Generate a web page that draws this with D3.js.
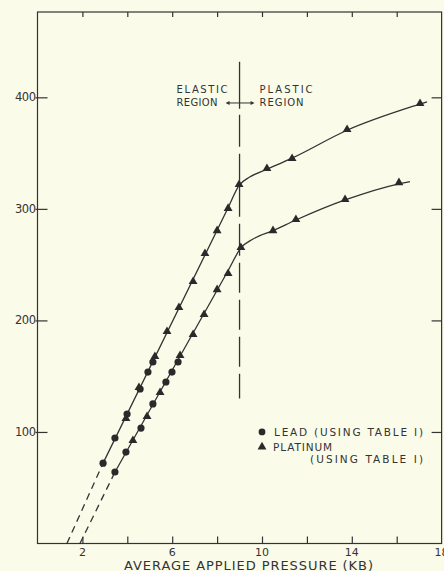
<!DOCTYPE html>
<html>
<head>
<meta charset="utf-8">
<script src="https://cdn.jsdelivr.net/npm/d3@7"></script>
<style>
  html, body { margin: 0; padding: 0; background: #fbfbea; }
  svg { display: block; }
  text { font-family: "DejaVu Sans", sans-serif; fill: #333; }
</style>
</head>
<body>
<svg id="chart" width="444" height="571"></svg>
<script>
// ---------------- data ----------------
const xTicks = [2, 4, 6, 8, 10, 12, 14, 16];
const xTickLabels = [2, 6, 10, 14, 18];
const yTicks = [100, 200, 300, 400];

// upper curve markers
const upperLead = [[2.92, 72], [3.45, 94.6], [3.99, 116], [4.57, 138.5], [4.92, 153.7], [5.14, 162.7]];
const upperPlatinum = [[3.94, 111.6], [4.52, 139.4], [5.23, 167.2], [5.77, 189.6], [6.30, 211.1], [6.93, 234.4],
  [7.46, 259.5], [8.00, 280.1], [8.49, 299.9], [8.98, 321.4], [10.22, 335.7], [11.34, 344.7], [13.79, 370.7], [17.04, 394]];
// lower curve markers
const lowerLead = [[3.45, 64.1], [3.94, 82], [4.61, 103.5], [5.14, 125.1], [5.72, 144.8], [5.99, 153.7], [6.26, 162.7]];
const lowerPlatinum = [[4.25, 91.9], [4.88, 113.4], [5.46, 134.9], [6.35, 168.1], [6.93, 186.9], [7.42, 204.8],
  [8.00, 227.2], [8.49, 241.6], [9.06, 264.9], [10.49, 280.1], [11.51, 290], [13.70, 307.9], [16.10, 323.1]];

// fitted curves
const upperCurve = [[2.92, 72], [8.49, 301], [8.98, 321], [9.45, 328.5], [10.22, 335.5], [11.34, 345.5], [13.79, 370.5], [17.04, 394], [17.35, 396]];
const lowerCurve = [[3.45, 64], [8.5, 245], [9.06, 265], [9.6, 273], [10.49, 280.5], [11.51, 290], [13.7, 308], [16.1, 322.5], [16.59, 324.5]];
// dashed extrapolations
const upperExtrap = [[1.31, 0], [2.92, 72]];
const lowerExtrap = [[1.89, 0], [3.45, 64]];

const boundaryX = 9;
const boundaryY = [130, 432];

// ---------------- layout ----------------
const W = 444, H = 571;
const m = { left: 37.5, right: 2.4, top: 12, bottom: 27.5 };
const ink = "#333";
const svg = d3.select("#chart");
svg.append("rect").attr("width", W).attr("height", H).attr("fill", "#fbfbea");

const x = d3.scaleLinear().domain([0, 18]).range([m.left, W - m.right]);
const y = d3.scaleLinear().domain([0, 476.5]).range([H - m.bottom, m.top]);

// frame
svg.append("rect")
  .attr("x", x(0)).attr("y", y(476.5))
  .attr("width", x(18) - x(0)).attr("height", y(0) - y(476.5))
  .attr("fill", "none").attr("stroke", ink).attr("stroke-width", 1.2);

// bottom axis (ticks inward)
const xAxisB = d3.axisBottom(x).tickValues(xTicks).tickSize(-7).tickFormat("");
svg.append("g").attr("transform", `translate(0,${y(0)})`).call(xAxisB)
  .call(g => g.select(".domain").remove())
  .call(g => g.selectAll("line").attr("stroke", ink).attr("stroke-width", 1.2));
// top axis ticks
const xAxisT = d3.axisTop(x).tickValues(xTicks).tickSize(-5).tickFormat("");
svg.append("g").attr("transform", `translate(0,${y(476.5)})`).call(xAxisT)
  .call(g => g.select(".domain").remove())
  .call(g => g.selectAll("line").attr("stroke", ink).attr("stroke-width", 1.2));
// x tick labels
svg.append("g").selectAll("text").data(xTickLabels).join("text")
  .attr("x", d => x(d)).attr("y", y(0) + 12.5)
  .attr("text-anchor", "middle").attr("font-size", 11).text(d => d);

// left axis
const yAxisL = d3.axisLeft(y).tickValues(yTicks).tickSize(-10).tickFormat("");
svg.append("g").attr("transform", `translate(${x(0)},0)`).call(yAxisL)
  .call(g => g.select(".domain").remove())
  .call(g => g.selectAll("line").attr("x1", -2).attr("stroke", ink).attr("stroke-width", 1.2));
svg.append("g").selectAll("text").data(yTicks).join("text")
  .attr("x", x(0) - 2).attr("y", d => y(d) + 4)
  .attr("text-anchor", "end").attr("font-size", 11.5).attr("letter-spacing", -0.5).text(d => d);
// right axis ticks
const yAxisR = d3.axisRight(y).tickValues(yTicks).tickSize(-10).tickFormat("");
svg.append("g").attr("transform", `translate(${x(18)},0)`).call(yAxisR)
  .call(g => g.select(".domain").remove())
  .call(g => g.selectAll("line").attr("stroke", ink).attr("stroke-width", 1.2));

// x axis title
svg.append("text").attr("x", 124).attr("y", H - 1.5)
  .attr("font-size", 13).attr("textLength", 249).attr("lengthAdjust", "spacing")
  .text("AVERAGE APPLIED PRESSURE (KB)");

// boundary dashed line
svg.append("line")
  .attr("x1", x(boundaryX)).attr("x2", x(boundaryX))
  .attr("y1", y(boundaryY[1])).attr("y2", y(boundaryY[0]))
  .attr("stroke", ink).attr("stroke-width", 1.3)
  .attr("stroke-dasharray", "47,6,32,7,27,6,30,7,32,7,30,7,30,7,30,7,30,7,30,7,30,7");

// region labels
const lab = svg.append("g").attr("font-size", 10).attr("lengthAdjust", "spacing");
const bx = x(boundaryX);
lab.append("text").attr("x", bx - 63).attr("y", y(404)).attr("textLength", 51).text("ELASTIC");
lab.append("text").attr("x", bx - 63).attr("y", y(392.5)).attr("textLength", 41).text("REGION");
lab.append("text").attr("x", bx + 20).attr("y", y(404)).attr("textLength", 53).text("PLASTIC");
lab.append("text").attr("x", bx + 20).attr("y", y(392.5)).attr("textLength", 44).text("REGION");
// arrow
const ay = y(403) + 9;
svg.append("line").attr("x1", bx - 12).attr("x2", bx + 13)
  .attr("y1", ay).attr("y2", ay).attr("stroke", ink).attr("stroke-width", 1);
svg.append("path").attr("d", `M${bx - 14},${ay} l4,-2 l0,4 z`).attr("fill", ink);
svg.append("path").attr("d", `M${bx + 15},${ay} l-4,-2 l0,4 z`).attr("fill", ink);

// curves
const line = d3.line().x(d => x(d[0])).y(d => y(d[1])).curve(d3.curveMonotoneX);
[upperCurve, lowerCurve].forEach(c => {
  svg.append("path").attr("d", line(c)).attr("fill", "none")
    .attr("stroke", ink).attr("stroke-width", 1.3);
});
const straight = d3.line().x(d => x(d[0])).y(d => y(d[1]));
[upperExtrap, lowerExtrap].forEach(c => {
  svg.append("path").attr("d", straight(c)).attr("fill", "none")
    .attr("stroke", ink).attr("stroke-width", 1.3).attr("stroke-dasharray", "7,5");
});

// markers
const tri = d3.symbol().type(d3.symbolTriangle).size(34);
const drawCircles = data => svg.append("g").selectAll("circle").data(data).join("circle")
  .attr("cx", d => x(d[0])).attr("cy", d => y(d[1])).attr("r", 3.6).attr("fill", "#2a2a2a");
const drawTri = data => svg.append("g").selectAll("path").data(data).join("path")
  .attr("d", tri).attr("transform", d => `translate(${x(d[0])},${y(d[1]) - 0.5})`).attr("fill", "#2a2a2a");
drawCircles(upperLead); drawCircles(lowerLead);
drawTri(upperPlatinum); drawTri(lowerPlatinum);

// legend
const lg = svg.append("g").attr("font-size", 10.5).attr("lengthAdjust", "spacing");
lg.append("circle").attr("cx", 262).attr("cy", y(100)).attr("r", 3.4).attr("fill", "#2a2a2a");
lg.append("text").attr("x", 274).attr("y", y(100) + 4).attr("textLength", 149).text("LEAD (USING TABLE I)");
lg.append("path").attr("d", tri).attr("transform", `translate(262,${y(100) + 15})`).attr("fill", "#2a2a2a");
lg.append("text").attr("x", 273).attr("y", y(100) + 19).attr("textLength", 59).text("PLATINUM");
lg.append("text").attr("x", 310).attr("y", y(100) + 31).attr("textLength", 113).text("(USING TABLE I)");
</script>
</body>
</html>
